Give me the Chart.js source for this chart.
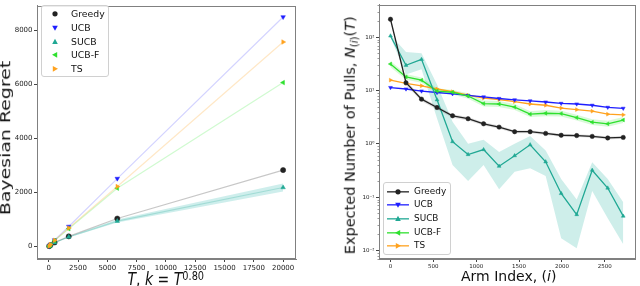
<html lang="en">
<head>
    <meta charset="UTF-8">
    <title>Bayesian Regret and Expected Number of Pulls</title>
    <script src="https://cdn.jsdelivr.net/npm/chart.js"></script>
    <style>
        body {
            margin: 0;
            width: 640px;
            height: 286px;
            background: white;
            font-family: 'DejaVu Sans', sans-serif;
            position: relative;
            overflow: hidden;
        }
        canvas { position: absolute; top: 0; }
        #leftChart { left: 0; }
        #rightChart { left: 320px; }
        .title {
            position: absolute;
            white-space: nowrap;
            line-height: 1;
            color: #111;
        }
        .title sup, .title sub { font-size: 0.7em; line-height: 0; }
        .legend {
            position: absolute;
            border: 1px solid #d0d0d0;
            border-radius: 3px;
            background: rgba(255, 255, 255, 0.85);
            box-sizing: border-box;
        }
        .legend .row {
            position: absolute;
            height: 13.7px;
            line-height: 13.7px;
            color: #111;
            white-space: nowrap;
        }
        .legend svg { position: absolute; top: 0; }
    </style>
</head>
<body>
    <canvas id="leftChart" width="310" height="286"></canvas>
    <canvas id="rightChart" width="320" height="286"></canvas>

    <div class="title" id="leftY" style="font-size:14px;">Bayesian Regret</div>
    <div class="title" id="leftX" style="font-size:14px;"><i>T</i>, <i>k</i> = <i>T</i><sup style="vertical-align:4px;">0.80</sup></div>
    <div class="title" id="rightY" style="font-size:14.5px;">Expected Number of Pulls, <i>N</i><sub style="vertical-align:-3px;">(<i>i</i>)</sub>(<i>T</i>)</div>
    <div class="title" id="rightX" style="font-size:14px;">Arm Index, (<i>i</i>)</div>

    <div class="legend" id="leftLegend" style="left:41px; top:5px; width:68px; height:72px;"></div>
    <div class="legend" id="rightLegend" style="left:383px; top:182px; width:68px; height:73px;"></div>

    <script>
        // ---- datos del panel izquierdo (regret vs T) ----
        const T_VALUES = [43, 146, 500, 1710, 5850, 20000];
        const REGRET_GREEDY = [15, 50, 150, 377, 1035, 2826];
        const REGRET_UCB = [20, 80, 240, 742, 2512, 8483];
        const REGRET_SUCB = [15, 50, 145, 355, 940, 2183];
        const REGRET_SUCB_LO = [14, 46, 135, 335, 885, 2030];
        const REGRET_SUCB_HI = [16, 54, 155, 375, 1000, 2330];
        const REGRET_UCBF = [18, 70, 220, 658, 2157, 6058];
        const REGRET_TS = [18, 72, 230, 684, 2219, 7558];
        const LEFT_X_TICKS = [0, 2500, 5000, 7500, 10000, 12500, 15000, 17500, 20000];
        const LEFT_Y_TICKS = [0, 2000, 4000, 6000, 8000];

        // ---- datos del panel derecho (pulls vs arm index) ----
        const ARMS = [0, 181, 362, 543, 724, 905, 1086, 1267, 1448, 1629, 1810, 1991, 2172, 2353, 2534, 2715];
        const PULLS_GREEDY = [218, 14, 6.9, 4.8, 3.36, 2.96, 2.38, 2.06, 1.69, 1.69, 1.57, 1.45, 1.43, 1.38, 1.29, 1.32];
        const PULLS_GREEDY_HI = [235, 15.5, 7.5, 5.2, 3.6, 3.2, 2.55, 2.2, 1.8, 1.8, 1.67, 1.54, 1.52, 1.46, 1.37, 1.4];
        const PULLS_GREEDY_LO = [200, 12.6, 6.3, 4.4, 3.1, 2.75, 2.2, 1.92, 1.58, 1.58, 1.47, 1.36, 1.34, 1.3, 1.21, 1.24];
        const PULLS_UCB = [11.4, 10.7, 9.8, 9.2, 8.7, 8.1, 7.6, 7.1, 6.7, 6.4, 6.1, 5.75, 5.6, 5.3, 4.85, 4.65];
        const PULLS_SUCB = [106, 29.8, 38.5, 6.7, 1.1, 0.63, 0.78, 0.38, 0.6, 0.96, 0.46, 0.117, 0.047, 0.32, 0.148, 0.044];
        const PULLS_SUCB_HI = [112, 53, 50, 13, 2.6, 1.0, 1.2, 0.7, 1.0, 1.4, 0.75, 0.22, 0.09, 0.45, 0.22, 0.08];
        const PULLS_SUCB_LO = [100, 20, 25, 3, 0.4, 0.2, 0.4, 0.14, 0.3, 0.35, 0.25, 0.017, 0.011, 0.13, 0.04, 0.013];
        const PULLS_UCBF = [31.5, 18, 15.7, 9.8, 9.3, 7.9, 5.7, 5.6, 4.9, 3.6, 3.75, 3.7, 3.1, 2.55, 2.38, 2.8];
        const PULLS_UCBF_HI = [36, 20.5, 17.5, 11, 10.3, 8.9, 6.5, 6.4, 5.6, 4.1, 4.3, 4.2, 3.5, 2.9, 2.7, 3.2];
        const PULLS_UCBF_LO = [27.5, 16, 14, 8.8, 8.4, 7.0, 5.0, 4.9, 4.3, 3.2, 3.3, 3.25, 2.75, 2.25, 2.1, 2.45];
        const PULLS_TS = [15.7, 13.6, 12.3, 10.7, 9.5, 8.2, 7.25, 6.8, 6.2, 5.6, 5.3, 4.7, 4.4, 4.1, 3.6, 3.5];
        const RIGHT_X_TICKS = [0, 500, 1000, 1500, 2000, 2500];
        const RIGHT_Y_TICKS = [0.01, 0.1, 1, 10, 100];
        const RIGHT_Y_LABELS = ['10⁻²', '10⁻¹', '10⁰', '10¹', '10²'];

        const NAMES = ['Greedy', 'UCB', 'SUCB', 'UCB-F', 'TS'];
        const COLORS = ['#222222', '#1f1fff', '#20a894', '#2fe02f', '#ffa21f'];
        const FAINT = ['rgba(0,0,0,0.22)', 'rgba(40,40,255,0.2)', 'rgba(32,168,148,0.25)', 'rgba(40,230,40,0.22)', 'rgba(255,165,30,0.25)'];
        const STYLES = ['circle', 'triangle', 'triangle', 'triangle', 'triangle'];
        const ROTATIONS = [0, 180, 0, 270, 90];

        function pts(xs, ys) {
            return xs.map((x, i) => ({ x: x, y: ys[i] }));
        }

        // marco completo alrededor del area del grafico
        const framePlugin = {
            id: 'frame',
            afterDraw(chart) {
                const a = chart.chartArea, ctx = chart.ctx;
                ctx.save();
                ctx.strokeStyle = '#808080';
                ctx.lineWidth = 1;
                ctx.strokeRect(Math.round(a.left) + 0.5, Math.round(a.top) + 0.5,
                    Math.round(a.right - a.left) - 1, Math.round(a.bottom - a.top) - 1);
                ctx.restore();
            }
        };

        // ticks menores del eje log
        const minorTicks = {
            id: 'minorTicks',
            afterDraw(chart) {
                const y = chart.scales.y, ctx = chart.ctx;
                const left = chart.chartArea.left;
                ctx.save();
                ctx.strokeStyle = '#555';
                ctx.lineWidth = 0.6;
                for (let e = -3; e <= 2; e++) {
                    for (let m = 2; m <= 9; m++) {
                        const v = m * Math.pow(10, e);
                        if (v < y.min || v > y.max) continue;
                        const p = Math.round(y.getPixelForValue(v)) + 0.5;
                        ctx.beginPath();
                        ctx.moveTo(left - 1.5, p);
                        ctx.lineTo(left, p);
                        ctx.stroke();
                    }
                }
                ctx.restore();
            }
        };

        function axisCommon(fontSize) {
            return {
                grid: { display: true, drawOnChartArea: false, drawTicks: true, tickLength: 3, color: '#444' },
                border: { display: true, color: '#808080' },
                ticks: { font: { family: 'DejaVu Sans', size: fontSize }, color: '#222', padding: 1.5, maxRotation: 0, autoSkip: false }
            };
        }

        // ---------- panel izquierdo ----------
        const leftDatasets = [];
        leftDatasets.push({
            data: pts(T_VALUES, REGRET_SUCB_HI), fill: '+1', backgroundColor: 'rgba(32,178,170,0.22)',
            borderWidth: 0, pointRadius: 0, order: 20
        });
        leftDatasets.push({
            data: pts(T_VALUES, REGRET_SUCB_LO), fill: false, borderWidth: 0, pointRadius: 0, order: 20
        });
        [REGRET_GREEDY, REGRET_UCB, REGRET_SUCB, REGRET_UCBF, REGRET_TS].forEach((arr, i) => {
            leftDatasets.push({
                label: NAMES[i],
                data: pts(T_VALUES, arr),
                borderColor: FAINT[i],
                borderWidth: 1.2,
                pointStyle: STYLES[i],
                rotation: ROTATIONS[i],
                pointRadius: 2.6,
                pointBackgroundColor: COLORS[i],
                pointBorderColor: COLORS[i],
                pointBorderWidth: 0.5,
                fill: false,
                order: 5 - i
            });
        });

        const lx = axisCommon(7);
        lx.type = 'linear'; lx.min = -1000; lx.max = 21100;
        lx.afterBuildTicks = s => { s.ticks = LEFT_X_TICKS.map(v => ({ value: v })); };
        lx.ticks.callback = v => String(v);
        lx.afterFit = s => { s.height = 27; };

        const ly = axisCommon(7);
        ly.type = 'linear'; ly.min = -460; ly.max = 8900;
        ly.afterBuildTicks = s => { s.ticks = LEFT_Y_TICKS.map(v => ({ value: v })); };
        ly.ticks.callback = v => String(v);
        ly.afterFit = s => { s.width = 37; };

        new Chart(document.getElementById('leftChart'), {
            type: 'line',
            data: { datasets: leftDatasets },
            options: {
                responsive: false,
                animation: false,
                layout: { padding: { top: 2, right: 14, left: 0, bottom: 0 } },
                plugins: { legend: { display: false }, tooltip: { enabled: false } },
                scales: { x: lx, y: ly }
            },
            plugins: [framePlugin]
        });

        // ---------- panel derecho ----------
        const rightDatasets = [];
        const bands = [
            [PULLS_GREEDY_HI, PULLS_GREEDY_LO, 'rgba(0,0,0,0.12)'],
            [PULLS_SUCB_HI, PULLS_SUCB_LO, 'rgba(32,178,160,0.22)'],
            [PULLS_UCBF_HI, PULLS_UCBF_LO, 'rgba(40,230,40,0.18)']
        ];
        bands.forEach(b => {
            rightDatasets.push({ data: pts(ARMS, b[0]), fill: '+1', backgroundColor: b[2], borderWidth: 0, pointRadius: 0, order: 20 });
            rightDatasets.push({ data: pts(ARMS, b[1]), fill: false, borderWidth: 0, pointRadius: 0, order: 20 });
        });
        [PULLS_GREEDY, PULLS_UCB, PULLS_SUCB, PULLS_UCBF, PULLS_TS].forEach((arr, i) => {
            rightDatasets.push({
                label: NAMES[i],
                data: pts(ARMS, arr),
                borderColor: COLORS[i],
                borderWidth: 1.3,
                pointStyle: STYLES[i],
                rotation: ROTATIONS[i],
                pointRadius: 2.2,
                pointBackgroundColor: COLORS[i],
                pointBorderColor: COLORS[i],
                pointBorderWidth: 0.5,
                fill: false,
                order: [1, 4, 2, 3, 5][i]
            });
        });

        const rx = axisCommon(5.5);
        rx.type = 'linear'; rx.min = -134; rx.max = 2858;
        rx.afterBuildTicks = s => { s.ticks = RIGHT_X_TICKS.map(v => ({ value: v })); };
        rx.ticks.callback = v => String(v);
        rx.afterFit = s => { s.height = 27; };

        const ry = axisCommon(5.5);
        ry.type = 'logarithmic'; ry.min = 0.0069; ry.max = 407;
        ry.afterBuildTicks = s => { s.ticks = RIGHT_Y_TICKS.map(v => ({ value: v })); };
        ry.ticks.callback = v => RIGHT_Y_LABELS[RIGHT_Y_TICKS.indexOf(v)] || '';
        ry.afterFit = s => { s.width = 59; };

        new Chart(document.getElementById('rightChart'), {
            type: 'line',
            data: { datasets: rightDatasets },
            options: {
                responsive: false,
                animation: false,
                layout: { padding: { top: 2, right: 1, left: 0, bottom: 0 } },
                plugins: { legend: { display: false }, tooltip: { enabled: false } },
                scales: { x: rx, y: ry }
            },
            plugins: [framePlugin, minorTicks]
        });

        // ---------- titulos ----------
        // el panel izquierdo esta estirado en vertical (~1.35) en la figura original
        function placeTitle(id, cx, baseline, rotate, stretch) {
            const el = document.getElementById(id);
            const fs = parseFloat(el.style.fontSize);
            const w = el.offsetWidth;
            const k = stretch || 1;
            if (!rotate) {
                el.style.left = (cx - w / 2) + 'px';
                el.style.top = (baseline - 0.846 * fs) + 'px';
                el.style.transformOrigin = '50% 84.6%';
                el.style.transform = `scale(1, ${k})`;
            } else {
                // cx = centro de la caja de texto girada
                el.style.left = (cx - w / 2) + 'px';
                el.style.top = (baseline - fs / 2) + 'px';
                el.style.transform = `rotate(-90deg) scale(${k}, 1)`;
            }
        }
        placeTitle('leftX', 166, 285, false, 1.3);
        placeTitle('rightX', 508.5, 280.5, false);
        placeTitle('leftY', 5.2, 138, true, 1.35);
        placeTitle('rightY', 349.5, 135, true);

        // ---------- leyendas ----------
        function markerSvg(i, withLine) {
            const c = COLORS[i];
            const w = withLine ? 22 : 10;
            const cx = w / 2, cy = 6.85;
            let shape;
            if (i === 0) shape = `<circle cx="${cx}" cy="${cy}" r="2.6" fill="${c}"/>`;
            else {
                const base = [[0, -3], [2.8, 2.2], [-2.8, 2.2]];
                const a = ROTATIONS[i] * Math.PI / 180;
                const p = base.map(([x, y]) => [cx + x * Math.cos(a) - y * Math.sin(a), cy + x * Math.sin(a) + y * Math.cos(a)]);
                shape = `<polygon points="${p.map(q => q.join(',')).join(' ')}" fill="${c}"/>`;
            }
            const line = withLine ? `<line x1="0" y1="${cy}" x2="${w}" y2="${cy}" stroke="${c}" stroke-width="1.3"/>` : '';
            return `<svg width="${w}" height="13.7" viewBox="0 0 ${w} 13.7">${line}${shape}</svg>`;
        }

        function buildLegend(id, firstTop, markerLeft, textLeft, fontSize, withLine) {
            const box = document.getElementById(id);
            NAMES.forEach((name, i) => {
                const row = document.createElement('div');
                row.className = 'row';
                row.style.top = (firstTop + i * 13.7) + 'px';
                row.style.left = '0px';
                row.style.width = '100%';
                row.style.fontSize = fontSize + 'px';
                row.innerHTML = `<span style="position:absolute; left:${markerLeft}px;">${markerSvg(i, withLine)}</span>` +
                    `<span style="position:absolute; left:${textLeft}px;">${name}</span>`;
                box.appendChild(row);
            });
        }
        buildLegend('leftLegend', 1.2, 8, 29, 9.3, false);
        buildLegend('rightLegend', 1.5, 3, 30, 8.9, true);
    </script>
</body>
</html>
